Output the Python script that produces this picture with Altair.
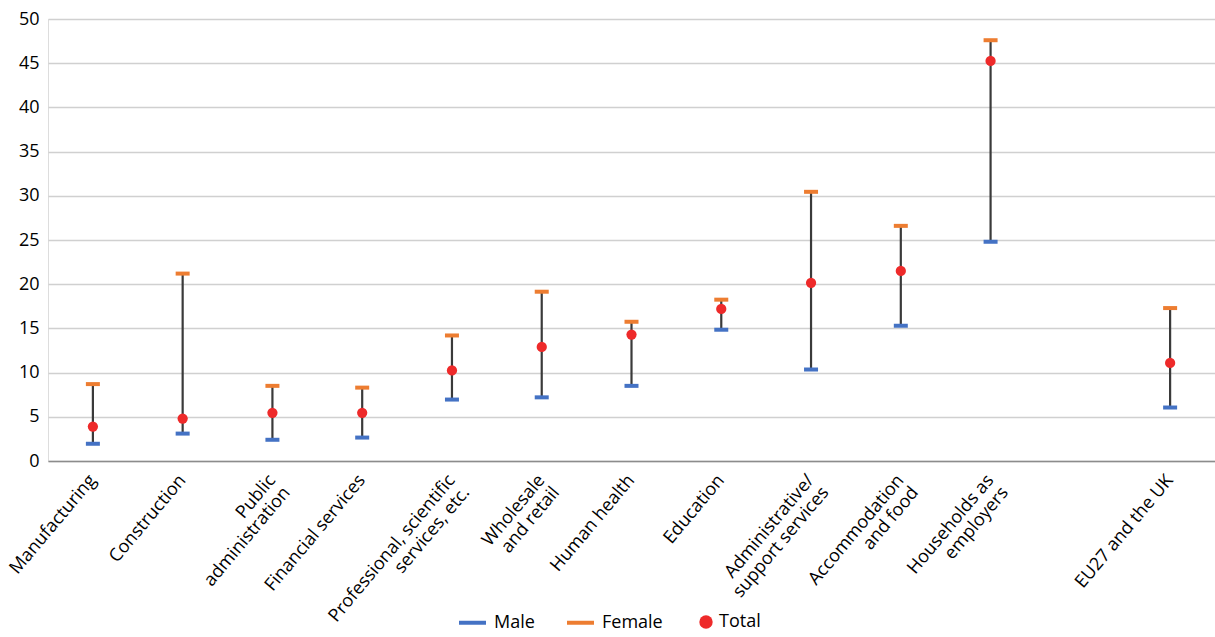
import altair as alt
import pandas as pd

categories = [
    "Manufacturing", "Construction", "Public|administration", "Financial services",
    "Professional, scientific|services, etc.", "Wholesale|and retail", "Human health",
    "Education", "Administrative/|support services", "Accommodation|and food",
    "Households as|employers", "EU27 and the UK",
]
male = [1.95, 3.1, 2.4, 2.65, 6.95, 7.2, 8.5, 14.85, 10.35, 15.3, 24.8, 6.05]
female = [8.7, 21.2, 8.5, 8.3, 14.2, 19.15, 15.75, 18.25, 30.45, 26.6, 47.6, 17.3]
total = [3.9, 4.8, 5.45, 5.45, 10.25, 12.9, 14.3, 17.2, 20.15, 21.5, 45.25, 11.1]

series_mf = ["Male", "Female"]
colors_mf = ["#4472C4", "#ED7D31"]
series_t = ["Total"]
colors_t = ["#EE2A2A"]

# x domain with an empty slot before the aggregate
domain = categories[:11] + [" "] + categories[11:]

wide = pd.DataFrame({"cat": categories, "Male": male, "Female": female, "Total": total})
long = wide.melt(id_vars="cat", value_vars=["Male", "Female", "Total"],
                 var_name="series", value_name="value")

FONT = "Open Sans"
FS = 18

x_enc = alt.X(
    "cat:N",
    scale=alt.Scale(domain=domain, paddingInner=0, paddingOuter=0),
    axis=alt.Axis(
        title=None, labelAngle=-50, labelAlign="right", labelBaseline="middle",
        labelExpr="split(datum.label, '|')", labelLineHeight=19,
        ticks=False, labelPadding=16, labelFontSize=18, labelFont=FONT,
        labelColor="#000000", domainColor="#8c8c8c", domainWidth=1.5,
        grid=False, labelOverlap=False, labelLimit=400,
    ),
)
y_scale = alt.Scale(domain=[0, 50], nice=False)
y_axis = alt.Axis(
    title=None, values=list(range(0, 51, 5)), domain=False, ticks=False,
    labelPadding=9, labelFontSize=FS, labelFont=FONT, labelColor="#000000",
    gridColor="#d0d0d0", gridWidth=1.4,
)

legend_mf = alt.Legend(
    title=None, orient="none", direction="horizontal", legendX=409, legendY=588,
    labelFontSize=FS, labelFont=FONT, labelColor="#000000", columnPadding=24,
    symbolType="stroke", symbolSize=729, symbolStrokeWidth=4, symbolOffset=0,
    padding=0, labelOffset=6,
)
legend_t = alt.Legend(
    title=None, orient="none", direction="horizontal", legendX=649, legendY=594,
    labelFontSize=FS, labelFont=FONT, labelColor="#000000",
    symbolType="circle", symbolSize=180, symbolOffset=0, padding=0, labelOffset=4,
)

rule = alt.Chart(wide).mark_rule(color="#3a3a3a", strokeWidth=2.2).encode(
    x=x_enc,
    y=alt.Y("Male:Q", scale=y_scale, axis=y_axis),
    y2="Female:Q",
)

ticks = alt.Chart(long).transform_filter(
    alt.datum.series != "Total"
).mark_point(shape="stroke", filled=False, strokeWidth=4, size=196, opacity=1).encode(
    x=x_enc,
    y=alt.Y("value:Q", scale=y_scale),
    color=alt.Color("series:N", scale=alt.Scale(domain=series_mf, range=colors_mf),
                    legend=legend_mf),
)

dots = alt.Chart(long).transform_filter(
    alt.datum.series == "Total"
).mark_circle(size=105, opacity=1).encode(
    x=x_enc,
    y=alt.Y("value:Q", scale=y_scale),
    color=alt.Color("series:N", scale=alt.Scale(domain=series_t, range=colors_t),
                    legend=legend_t),
)

chart = alt.layer(rule, ticks, dots).resolve_scale(color="independent").properties(
    width=1167, height=442,
    autosize="none",
    padding={"left": 48, "top": 19, "right": 0, "bottom": 176},
).configure_view(stroke=None).configure(background="#ffffff")

chart.save("out.html", embed_options={"renderer": "svg", "actions": False})
